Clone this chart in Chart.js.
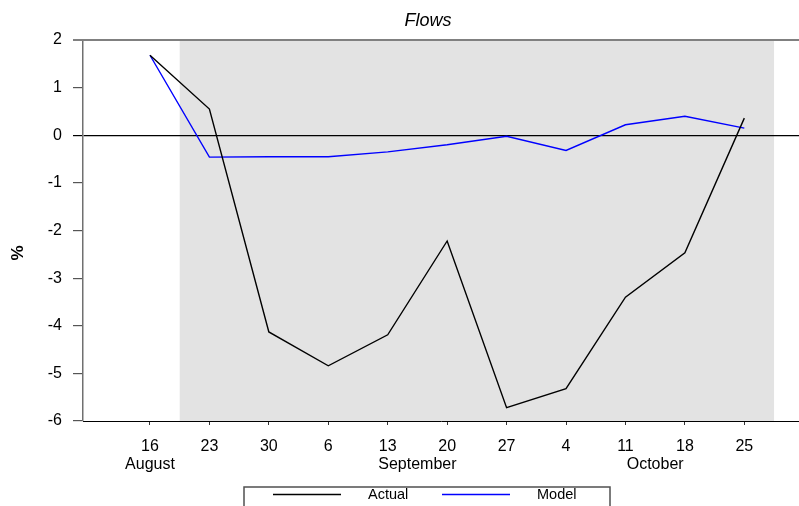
<!DOCTYPE html>
<html>
<head>
<meta charset="utf-8">
<script src="https://cdn.jsdelivr.net/npm/chart.js@4/dist/chart.umd.min.js"></script>
<style>
  html, body { margin: 0; padding: 0; background: #fff; }
  #wrap { width: 799px; height: 506px; }
</style>
</head>
<body>
<div id="wrap"><canvas id="flowsChart"></canvas></div>
<script>
// Weekly data, 16 Aug to 25 Oct
const dayLabels = ["16", "23", "30", "6", "13", "20", "27", "4", "11", "18", "25"];
const monthLabels = ["August", "September", "October"];
const monthPositions = [0, 4.5, 8.5];   // where each month name sits on the week axis
const actualValues = [1.68, 0.55, -4.13, -4.84, -4.19, -2.22, -5.72, -5.32, -3.40, -2.47, 0.36];
const modelValues = [1.68, -0.46, -0.45, -0.45, -0.35, -0.20, -0.02, -0.32, 0.22, 0.40, 0.15];
const shadeFrom = 0.5, shadeTo = 10.5;  // shaded weeks
const yTicks = [-6, -5, -4, -3, -2, -1, 0, 1, 2];

const FONT = "'Liberation Sans', Arial, sans-serif";

function toPoints(values) {
    return values.map((v, i) => ({ x: i, y: v }));
}

// shaded band behind everything
const shadePlugin = {
    id: 'shade',
    beforeDraw(chart) {
        const { ctx, chartArea, scales } = chart;
        const x1 = scales.x.getPixelForValue(shadeFrom);
        const x2 = scales.x.getPixelForValue(shadeTo);
        ctx.save();
        ctx.fillStyle = '#e3e3e3';
        ctx.fillRect(x1, chartArea.top, x2 - x1, chartArea.bottom - chartArea.top);
        ctx.restore();
    }
};

// title, y title, top frame line and boxed legend
const decorPlugin = {
    id: 'decor',
    afterDraw(chart) {
        const { ctx, chartArea } = chart;
        ctx.save();
        // top frame line
        ctx.strokeStyle = '#808080';
        ctx.lineWidth = 2;
        ctx.beginPath();
        ctx.moveTo(chartArea.left - 10, chartArea.top);
        ctx.lineTo(chartArea.right, chartArea.top);
        ctx.stroke();

        // title
        ctx.fillStyle = '#000';
        ctx.font = 'italic 18px ' + FONT;
        ctx.textAlign = 'center';
        ctx.textBaseline = 'middle';
        ctx.fillText('Flows', 428, 21);

        // y axis title
        ctx.save();
        ctx.translate(18, 253);
        ctx.rotate(-Math.PI / 2);
        ctx.font = 'bold 17px ' + FONT;
        ctx.fillText('%', 0, 0);
        ctx.restore();

        // legend box
        ctx.strokeStyle = '#505050';
        ctx.lineWidth = 1.5;
        ctx.strokeRect(244, 487, 366, 30);
        const items = chart.data.datasets;
        const starts = [273, 442];
        ctx.font = '14.5px ' + FONT;
        ctx.textAlign = 'left';
        items.forEach((ds, i) => {
            const x = starts[i];
            ctx.strokeStyle = ds.borderColor;
            ctx.lineWidth = 1.5;
            ctx.beginPath();
            ctx.moveTo(x, 494.5);
            ctx.lineTo(x + 68, 494.5);
            ctx.stroke();
            ctx.fillStyle = '#000';
            ctx.fillText(ds.label, x + 95, 495);
        });
        ctx.restore();
    }
};

const xTickValues = dayLabels.map((d, i) => i).concat(monthPositions.filter(p => !Number.isInteger(p)));

new Chart(document.getElementById('flowsChart'), {
    type: 'line',
    data: {
        datasets: [
            {
                label: 'Actual',
                data: toPoints(actualValues),
                borderColor: '#000000',
                borderWidth: 1.4,
                pointRadius: 0,
                tension: 0
            },
            {
                label: 'Model',
                data: toPoints(modelValues),
                borderColor: '#0000ff',
                borderWidth: 1.4,
                pointRadius: 0,
                tension: 0
            }
        ]
    },
    options: {
        responsive: true,
        maintainAspectRatio: false,
        animation: false,
        layout: { padding: { left: 0, right: 0, top: 40, bottom: 0 } },
        plugins: {
            legend: { display: false },
            title: { display: false },
            tooltip: { enabled: false }
        },
        scales: {
            x: {
                type: 'linear',
                min: -1.127,
                max: 10.92,
                afterFit(axis) { axis.height = 85; },
                afterBuildTicks(axis) {
                    axis.ticks = xTickValues.slice().sort((a, b) => a - b).map(v => ({ value: v }));
                },
                border: { display: true, color: '#000', width: 1 },
                grid: {
                    drawOnChartArea: false,
                    drawTicks: true,
                    tickLength: 4,
                    tickColor: ctx => (ctx.tick && Number.isInteger(ctx.tick.value)) ? '#333' : 'rgba(0,0,0,0)'
                },
                ticks: {
                    autoSkip: false,
                    maxRotation: 0,
                    padding: 12,
                    color: '#000',
                    font: { family: FONT, size: 16, lineHeight: 1.15 },
                    callback(value) {
                        const m = monthPositions.indexOf(value);
                        const day = Number.isInteger(value) ? dayLabels[value] : '';
                        return [day, m >= 0 ? monthLabels[m] : ''];
                    }
                }
            },
            y: {
                min: -6,
                max: 2,
                afterFit(axis) { axis.width = 83; },
                afterBuildTicks(axis) {
                    axis.ticks = yTicks.map(v => ({ value: v }));
                },
                border: { display: true, color: '#707070', width: 1.5 },
                grid: {
                    drawOnChartArea: true,
                    tickLength: 10,
                    color: ctx => (ctx.tick && ctx.tick.value === 0) ? '#000' : 'rgba(0,0,0,0)',
                    lineWidth: 1.2,
                    tickColor: ctx => (ctx.tick && ctx.tick.value === 0) ? '#000' : '#555'
                },
                ticks: {
                    padding: 11,
                    color: '#000',
                    font: { family: FONT, size: 16 }
                }
            }
        }
    },
    plugins: [shadePlugin, decorPlugin]
});
</script>
</body>
</html>
